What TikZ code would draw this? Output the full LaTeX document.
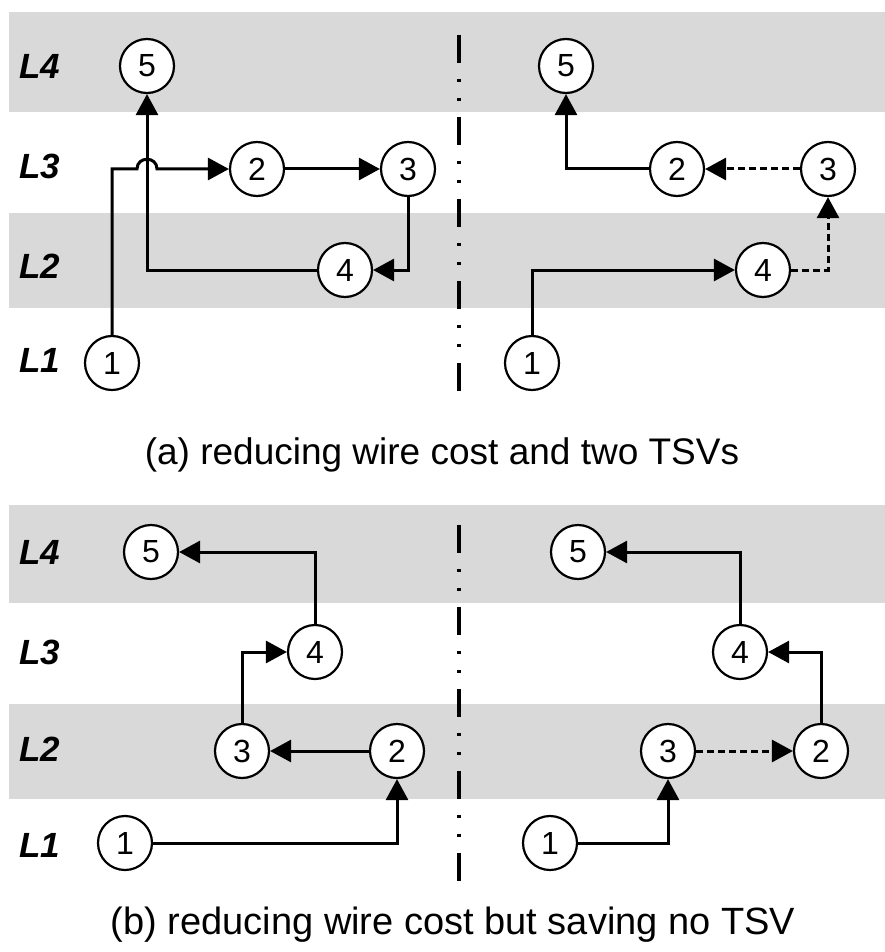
\documentclass[tikz,border=0pt]{standalone}
\usepackage{fontspec}
\setmainfont{Liberation Sans}
\usetikzlibrary{arrows.meta}
\definecolor{band}{HTML}{D9D9D9}
\begin{document}
\begin{tikzpicture}[x=1pt,y=-1pt,
  nd/.style={circle,draw,line width=2.2pt,fill=white,minimum size=54pt,inner sep=0pt,font=\fontsize{32}{32}\selectfont},
  lay/.style={font=\fontsize{35}{35}\selectfont\bfseries\itshape},
  captext/.style={font=\fontsize{37}{37}\selectfont},
  wire/.style={line width=3pt,-{Triangle[length=21pt,width=22pt]}},
  tsv/.style={wire,dash pattern=on 7pt off 4pt},
  divider/.style={line width=3.5pt,dash pattern=on 28pt off 16pt on 3pt off 16pt on 3pt off 16pt}]
\useasboundingbox (0,0) rectangle (885,952);
% bands
\fill[band] (9,12) rectangle (885,112);
\fill[band] (9,213) rectangle (885,308);
\fill[band] (9,505) rectangle (885,603);
\fill[band] (9,704) rectangle (885,799);
% layer labels
\foreach \t/\y in {L4/66,L3/166,L2/266,L1/360,L4/552,L3/652,L2/749,L1/845}
  \node[lay] at (40,\y) {\t};
% dividers
\coordinate (dt1) at (459,35); \coordinate (dt2) at (459,400);
\coordinate (db1) at (459,525); \coordinate (db2) at (459,892);
\draw[divider] (dt1) -- (dt2);
\draw[divider] (db1) -- (db2);
% (a) left
\node[nd] (a5) at (147,66) {5};
\node[nd] (a2) at (257,169) {2};
\node[nd] (a3) at (408,169) {3};
\node[nd] (a4) at (345,270) {4};
\node[nd] (a1) at (112,363) {1};
\coordinate (j1) at (137,169);
\coordinate (j2) at (157,169);
\draw[wire] (a4.west) -| (a5.south);
\draw[wire] (a1.north) |- (j1) .. controls (137,156) and (157,156) .. (j2) -- (a2.west);
\draw[wire] (a2.east) -- (a3.west);
\draw[wire] (a3.south) |- (a4.east);
% (a) right
\node[nd] (b5) at (566,66) {5};
\node[nd] (b2) at (677,169) {2};
\node[nd] (b3) at (828,169) {3};
\node[nd] (b4) at (763,270) {4};
\node[nd] (b1) at (532,363) {1};
\draw[wire] (b1.north) |- (b4.west);
\draw[tsv] (b4.east) -| (b3.south);
\draw[tsv] (b3.west) -- (b2.east);
\draw[wire] (b2.west) -| (b5.south);
% (b) left
\node[nd] (c5) at (151,552) {5};
\node[nd] (c4) at (315,652) {4};
\node[nd] (c3) at (242,751) {3};
\node[nd] (c2) at (397,751) {2};
\node[nd] (c1) at (125,843) {1};
\draw[wire] (c1.east) -| (c2.south);
\draw[wire] (c2.west) -- (c3.east);
\draw[wire] (c3.north) |- (c4.west);
\draw[wire] (c4.north) |- (c5.east);
% (b) right
\node[nd] (d5) at (578,552) {5};
\node[nd] (d4) at (740,652) {4};
\node[nd] (d3) at (668,751) {3};
\node[nd] (d2) at (821,751) {2};
\node[nd] (d1) at (550,843) {1};
\draw[wire] (d1.east) -| (d3.south);
\draw[tsv] (d3.east) -- (d2.west);
\draw[wire] (d2.north) |- (d4.east);
\draw[wire] (d4.north) |- (d5.east);
% captions
\node[captext] (capa) at (442,455) {(a) reducing wire cost and two TSVs};
\node[captext,font=\fontsize{38}{38}\selectfont] (capb) at (453,925) {(b) reducing wire cost but saving no TSV};
\end{tikzpicture}
\end{document}
